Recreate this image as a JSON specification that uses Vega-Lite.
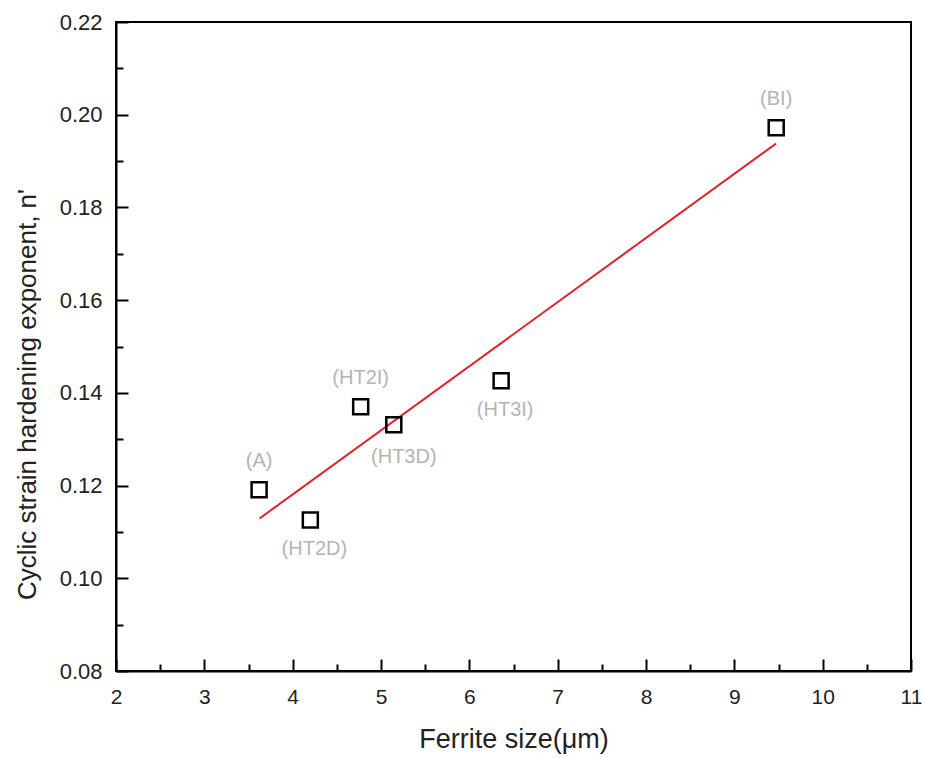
{
  "$schema": "https://vega.github.io/schema/vega-lite/v6.json",
  "autosize": "none",
  "width": 795,
  "height": 649,
  "padding": {"left": 116, "top": 22, "right": 14, "bottom": 87},
  "background": "white",
  "config": {
    "view": {"stroke": "black", "strokeWidth": 2},
    "font": "Liberation Sans",
    "axis": {
      "domainColor": "black",
      "domainWidth": 2,
      "tickColor": "black",
      "tickWidth": 2,
      "grid": false,
      "labelFont": "Liberation Sans",
      "labelColor": "#222",
      "titleFont": "Liberation Sans",
      "titleFontSize": 27,
      "titleFontWeight": "normal",
      "titleColor": "#222"
    }
  },
  "datasets": {
    "pts": [
      {"size": 3.62, "n": 0.1191, "label": "(A)"},
      {"size": 4.20, "n": 0.1126, "label": "(HT2D)"},
      {"size": 4.77, "n": 0.1370, "label": "(HT2I)"},
      {"size": 5.145, "n": 0.1331, "label": "(HT3D)"},
      {"size": 6.36, "n": 0.1426, "label": "(HT3I)"},
      {"size": 9.474, "n": 0.1972, "label": "(BI)"}
    ],
    "fit": [
      {"size": 3.625, "n": 0.1129},
      {"size": 9.474, "n": 0.1938}
    ]
  },
  "layer": [
    {
      "data": {"name": "fit"},
      "mark": {"type": "line", "color": "#e0202a", "strokeWidth": 2},
      "encoding": {
        "x": {
          "field": "size", "type": "quantitative",
          "scale": {"domain": [2, 11], "nice": false, "zero": false},
          "axis": {
            "title": "Ferrite size(μm)",
            "titlePadding": 14,
            "values": [2, 2.5, 3, 3.5, 4, 4.5, 5, 5.5, 6, 6.5, 7, 7.5, 8, 8.5, 9, 9.5, 10, 10.5, 11],
            "labelExpr": "datum.value % 1 === 0 ? format(datum.value, 'd') : ''",
            "tickSize": {"condition": {"test": "datum.value % 1 === 0", "value": -12}, "value": -7},
            "labelFontSize": 21,
            "labelPadding": 27,
            "labelFlush": false,
            "labelOverlap": false
          }
        },
        "y": {
          "field": "n", "type": "quantitative",
          "scale": {"domain": [0.08, 0.22], "nice": false, "zero": false},
          "axis": {
            "title": "Cyclic strain hardening exponent, n'",
            "titleFontSize": 26,
            "titleBaseline": "middle",
            "titleX": -89,
            "titleY": 372,
            "values": [0.08, 0.09, 0.10, 0.11, 0.12, 0.13, 0.14, 0.15, 0.16, 0.17, 0.18, 0.19, 0.20, 0.21, 0.22],
            "labelExpr": "abs(round(datum.value * 100) % 2) < 0.5 ? format(datum.value, '.2f') : ''",
            "tickSize": {"condition": {"test": "abs(round(datum.value * 100) % 2) < 0.5", "value": -12}, "value": -7},
            "labelFontSize": 22,
            "labelPadding": 26,
            "labelFlush": false,
            "labelOverlap": false
          }
        }
      }
    },
    {
      "data": {"name": "pts"},
      "mark": {"type": "point", "shape": "square", "filled": false, "size": 225, "stroke": "black", "strokeWidth": 2.5, "opacity": 1},
      "encoding": {
        "x": {"field": "size", "type": "quantitative"},
        "y": {"field": "n", "type": "quantitative"}
      }
    },
    {
      "data": {"name": "pts"},
      "transform": [{"filter": {"field": "label", "oneOf": ["(A)", "(HT2I)", "(BI)"]}}],
      "mark": {"type": "text", "dy": -29, "fontSize": 20, "color": "#b4b4b4", "font": "Liberation Sans"},
      "encoding": {
        "x": {"field": "size", "type": "quantitative"},
        "y": {"field": "n", "type": "quantitative"},
        "text": {"field": "label"}
      }
    },
    {
      "data": {"name": "pts"},
      "transform": [{"filter": {"field": "label", "oneOf": ["(HT2D)", "(HT3I)"]}}],
      "mark": {"type": "text", "dy": 29, "dx": 4, "fontSize": 20, "color": "#b4b4b4", "font": "Liberation Sans"},
      "encoding": {
        "x": {"field": "size", "type": "quantitative"},
        "y": {"field": "n", "type": "quantitative"},
        "text": {"field": "label"}
      }
    },
    {
      "data": {"name": "pts"},
      "transform": [{"filter": {"field": "label", "equal": "(HT3D)"}}],
      "mark": {"type": "text", "dy": 32, "dx": 10, "fontSize": 20, "color": "#b4b4b4", "font": "Liberation Sans"},
      "encoding": {
        "x": {"field": "size", "type": "quantitative"},
        "y": {"field": "n", "type": "quantitative"},
        "text": {"field": "label"}
      }
    }
  ]
}
